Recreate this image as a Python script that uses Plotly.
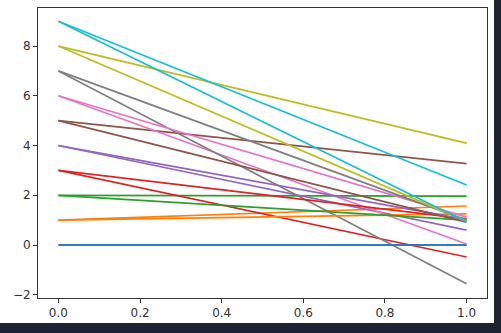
import plotly.graph_objects as go

x_points = [0.0, 1.0]
start_values = [0, 1, 2, 3, 4, 5, 6, 7, 8, 9]
end_values_a = [0.0, 1.57, 1.97, -0.48, 0.60, 3.27, 0.04, -1.56, 4.10, 2.41]
end_values_b = [0.0, 1.25, 1.00, 1.05, 1.02, 0.92, 1.12, 1.00, 0.95, 0.93]
colors = ["#1f77b4", "#ff7f0e", "#2ca02c", "#d62728", "#9467bd",
          "#8c564b", "#e377c2", "#7f7f7f", "#bcbd22", "#17becf"]
x_ticks = [0.0, 0.2, 0.4, 0.6, 0.8, 1.0]
y_ticks = [-2, 0, 2, 4, 6, 8]

fig = go.Figure()
for ends in (end_values_a, end_values_b):
    for i, (s, e) in enumerate(zip(start_values, ends)):
        fig.add_trace(go.Scatter(x=x_points, y=[s, e], mode="lines",
                                 line=dict(color=colors[i], width=1.7),
                                 showlegend=False, hoverinfo="skip"))

W, H = 501, 333
L, R, T, B = 38, 14, 8, 35
pw, ph = W - L - R, H - T - B
fig.add_shape(type="rect", xref="paper", yref="paper",
              x0=-L / pw, x1=(494 - L) / pw,
              y0=-(323 - (H - B)) / ph, y1=1 + T / ph,
              fillcolor="white", line=dict(width=0), layer="below")

axis_common = dict(showgrid=False, zeroline=False, showline=True, mirror=True,
                   linecolor="#333", linewidth=1, ticks="outside", ticklen=4,
                   tickcolor="#333", tickwidth=1,
                   tickfont=dict(family="DejaVu Sans", size=12, color="#333"))
fig.update_xaxes(range=[-0.05, 1.05], tickvals=x_ticks, tickformat=".1f", **axis_common)
fig.update_yaxes(range=[-2.13, 9.53], tickvals=y_ticks, **axis_common)
fig.update_layout(width=W, height=H, margin=dict(l=L, r=R, t=T, b=B),
                  paper_bgcolor="#1b2430", plot_bgcolor="white")
fig.write_html("out.html")
